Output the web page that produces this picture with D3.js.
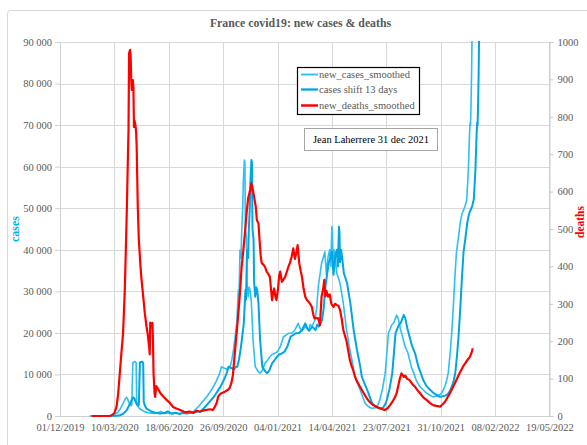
<!DOCTYPE html>
<html><head><meta charset="utf-8">
<script src="https://cdn.jsdelivr.net/npm/d3@7"></script>
<style>
html,body{margin:0;padding:0;background:#fff;}
svg{display:block;font-family:"Liberation Serif","Times New Roman",serif;}
</style></head>
<body><svg id="chart" width="587" height="445"></svg>
<script>
// ---------- DATA ----------
const titleText = "France covid19: new cases & deaths";
const seriesNames = ["new_cases_smoothed", "cases shift 13 days", "new_deaths_smoothed"];
const shiftDays = 13;
const xTickLabels = ["01/12/2019","10/03/2020","18/06/2020","26/09/2020","04/01/2021","14/04/2021","23/07/2021","31/10/2021","08/02/2022","19/05/2022"];
const leftTicks = [0,10000,20000,30000,40000,50000,60000,70000,80000,90000];
const rightTicks = [0,100,200,300,400,500,600,700,800,900,1000];
const annotation = "Jean Laherrere 31 dec 2021";

const newCases = [
["2020-01-24",0],["2020-03-01",50],["2020-03-08",200],["2020-03-14",650],["2020-03-17",1000],
["2020-03-20",1500],["2020-03-23",2240],["2020-03-26",3000],["2020-03-29",3850],["2020-04-01",4500],
["2020-04-03",4200],["2020-04-05",3440],["2020-04-08",2600],["2020-04-10",2500],["2020-04-11",2800],
["2020-04-12",8000],["2020-04-13",12900],["2020-04-15",13000],["2020-04-17",13100],["2020-04-19",12800],
["2020-04-20",3500],["2020-04-22",2500],["2020-04-25",1800],["2020-04-29",1500],["2020-05-05",1000],
["2020-05-12",800],["2020-05-20",600],["2020-05-28",700],["2020-06-03",1100],["2020-06-10",600],
["2020-06-17",800],["2020-06-24",500],["2020-07-01",700],["2020-07-09",600],["2020-07-16",800],
["2020-07-23",1000],["2020-08-02",1030],["2020-08-08",1800],["2020-08-14",2650],["2020-08-20",3600],
["2020-08-27",4640],["2020-09-02",5800],["2020-09-08",7050],["2020-09-13",8300],["2020-09-17",9460],
["2020-09-20",10500],["2020-09-23",11870],["2020-09-26",11600],["2020-09-29",11500],["2020-10-03",11200],
["2020-10-06",11800],["2020-10-09",11870],["2020-10-12",13500],["2020-10-15",15880],["2020-10-18",19000],
["2020-10-21",22300],["2020-10-24",30320],["2020-10-25",28000],["2020-10-27",39950],["2020-10-29",38000],
["2020-10-30",44000],["2020-11-01",50000],["2020-11-02",56000],["2020-11-04",61600],["2020-11-05",61000],
["2020-11-06",45000],["2020-11-08",42350],["2020-11-09",32000],["2020-11-11",28700],["2020-11-13",31000],
["2020-11-15",30000],["2020-11-17",27120],["2020-11-20",18290],["2020-11-24",11870],["2020-11-30",10660],
["2020-12-03",10300],["2020-12-07",11000],["2020-12-12",12680],["2020-12-17",13500],["2020-12-21",14270],
["2020-12-25",14800],["2020-12-30",15090],["2021-01-04",15500],["2021-01-09",16680],["2021-01-15",19080],
["2021-01-20",19500],["2021-01-24",19900],["2021-01-30",19900],["2021-02-05",20700],["2021-02-11",22300],
["2021-02-15",21000],["2021-02-18",20500],["2021-02-24",21490],["2021-03-02",20700],["2021-03-05",22000],
["2021-03-08",21500],["2021-03-14",23100],["2021-03-17",26000],["2021-03-20",31120],["2021-03-26",36740],
["2021-03-29",38000],["2021-04-01",39540],["2021-04-04",34000],["2021-04-07",38340],["2021-04-10",40000],
["2021-04-12",36000],["2021-04-14",45560],["2021-04-15",44000],["2021-04-16",37000],["2021-04-18",40000],
["2021-04-20",38000],["2021-04-23",34340],["2021-04-29",31930],["2021-05-05",27120],["2021-05-11",20700],
["2021-05-17",16000],["2021-05-23",12000],["2021-05-26",9460],["2021-06-01",7500],["2021-06-05",6260],
["2021-06-10",4500],["2021-06-14",3050],["2021-06-20",2300],["2021-06-26",1850],["2021-07-04",2000],
["2021-07-08",2800],["2021-07-11",3850],["2021-07-16",6500],["2021-07-21",10270],["2021-07-24",15000],
["2021-07-27",19900],["2021-08-02",21900],["2021-08-06",22500],["2021-08-11",24300],["2021-08-14",23500],
["2021-08-18",21000],["2021-08-22",19000],["2021-08-26",17000],["2021-09-01",15090],["2021-09-07",11870],
["2021-09-11",10500],["2021-09-16",8660],["2021-09-22",7200],["2021-09-29",6260],["2021-10-05",5500],
["2021-10-11",5050],["2021-10-17",4600],["2021-10-24",4800],["2021-10-31",5220],["2021-11-04",6000],
["2021-11-08",7220],["2021-11-11",8500],["2021-11-14",10420],["2021-11-17",14440],["2021-11-20",19250],
["2021-11-23",25670],["2021-11-26",32890],["2021-11-29",39300],["2021-12-03",43310],["2021-12-06",46510],
["2021-12-09",48530],["2021-12-15",50530],["2021-12-18",52140],["2021-12-21",59360],["2021-12-23",67380],
["2021-12-24",70580],["2021-12-25",70000],["2021-12-26",76000],["2021-12-27",83420],["2021-12-28",95000],
["2021-12-29",115000],["2021-12-30",135000],["2021-12-31",155000]
];

const newDeaths = [
["2020-01-28",0],["2020-03-01",0],["2020-03-05",2],["2020-03-10",8],["2020-03-14",25],["2020-03-17",60],
["2020-03-20",115],["2020-03-23",170],["2020-03-26",222],["2020-03-29",330],["2020-03-31",440],
["2020-04-02",560],["2020-04-04",700],["2020-04-05",765],["2020-04-06",970],["2020-04-07",975],
["2020-04-08",979],["2020-04-09",960],["2020-04-10",900],["2020-04-11",872],["2020-04-12",890],
["2020-04-13",898],["2020-04-14",880],["2020-04-15",773],["2020-04-16",790],["2020-04-17",783],
["2020-04-18",775],["2020-04-19",757],["2020-04-20",720],["2020-04-21",640],["2020-04-22",560],
["2020-04-24",471],["2020-04-27",400],["2020-04-29",364],["2020-05-02",320],["2020-05-05",275],
["2020-05-08",240],["2020-05-10",222],["2020-05-13",184],["2020-05-14",165],["2020-05-15",250],
["2020-05-17",240],["2020-05-19",249],["2020-05-20",200],["2020-05-21",115],["2020-05-23",60],
["2020-05-24",51],["2020-05-26",80],["2020-05-28",75],["2020-05-31",68],["2020-06-03",60],
["2020-06-08",52],["2020-06-14",43],["2020-06-20",35],["2020-06-26",24],["2020-07-02",20],
["2020-07-09",16],["2020-07-18",10],["2020-07-26",12],["2020-08-02",8],["2020-08-08",14],
["2020-08-14",12],["2020-08-22",15],["2020-09-02",18],["2020-09-07",16],["2020-09-11",25],
["2020-09-14",35],["2020-09-17",52],["2020-09-20",58],["2020-09-23",61],["2020-09-29",65],
["2020-10-05",70],["2020-10-08",75],["2020-10-11",87],["2020-10-14",110],["2020-10-18",176],
["2020-10-21",225],["2020-10-24",275],["2020-10-27",330],["2020-10-30",399],["2020-11-02",440],
["2020-11-05",488],["2020-11-08",540],["2020-11-11",582],["2020-11-14",600],["2020-11-17",622],
["2020-11-19",610],["2020-11-22",586],["2020-11-25",560],["2020-11-27",524],["2020-11-30",515],
["2020-12-02",470],["2020-12-04",430],["2020-12-06",408],["2020-12-09",405],["2020-12-12",399],
["2020-12-15",386],["2020-12-18",380],["2020-12-21",372],["2020-12-23",340],["2020-12-25",310],
["2020-12-27",330],["2020-12-29",341],["2020-12-31",320],["2021-01-02",310],["2021-01-05",340],
["2021-01-07",375],["2021-01-09",386],["2021-01-12",359],["2021-01-15",365],["2021-01-18",372],
["2021-01-21",385],["2021-01-24",399],["2021-01-27",410],["2021-01-30",426],["2021-02-02",448],
["2021-02-05",420],["2021-02-08",440],["2021-02-10",457],["2021-02-13",408],["2021-02-16",385],
["2021-02-18",372],["2021-02-21",340],["2021-02-24",319],["2021-02-27",310],["2021-03-02",306],
["2021-03-05",300],["2021-03-08",292],["2021-03-11",270],["2021-03-13",261],["2021-03-16",262],
["2021-03-20",261],["2021-03-23",243],["2021-03-26",319],["2021-03-29",340],["2021-03-31",364],
["2021-04-02",320],["2021-04-04",335],["2021-04-07",319],["2021-04-10",325],["2021-04-13",300],
["2021-04-17",292],["2021-04-20",300],["2021-04-23",297],["2021-04-26",295],["2021-04-29",283],
["2021-05-02",260],["2021-05-05",230],["2021-05-08",215],["2021-05-11",200],["2021-05-14",175],
["2021-05-17",150],["2021-05-20",135],["2021-05-23",123],["2021-05-26",108],["2021-05-29",96],
["2021-06-04",80],["2021-06-10",65],["2021-06-16",50],["2021-06-22",38],["2021-06-28",30],
["2021-07-05",25],["2021-07-12",20],["2021-07-20",16],["2021-07-25",20],["2021-07-30",29],
["2021-08-04",40],["2021-08-08",50],["2021-08-11",61],["2021-08-14",80],["2021-08-17",100],
["2021-08-20",114],["2021-08-22",110],["2021-08-24",105],["2021-08-27",108],["2021-08-30",100],
["2021-09-04",96],["2021-09-09",85],["2021-09-14",78],["2021-09-18",70],["2021-09-23",61],
["2021-09-29",50],["2021-10-05",43],["2021-10-11",35],["2021-10-17",29],["2021-10-23",27],
["2021-10-30",25],["2021-11-03",30],["2021-11-08",38],["2021-11-12",48],["2021-11-17",61],
["2021-11-23",78],["2021-11-29",96],["2021-12-05",115],["2021-12-11",132],["2021-12-17",145],
["2021-12-24",159],["2021-12-27",170],["2021-12-29",181]
];

// ---------- CHART ----------
const svg = d3.select("#chart");
const m = {left: 60, right: 549.4, top: 42, bottom: 416};
const parse = d3.utcParse("%Y-%m-%d");
const parseTick = d3.utcParse("%d/%m/%Y");
const fmtTick = d3.utcFormat("%d/%m/%Y");
const tickDates = xTickLabels.map(parseTick);
const serif = "'Liberation Serif','Times New Roman',serif";

const x = d3.scaleUtc().domain([tickDates[0], tickDates[tickDates.length-1]]).range([m.left, m.right]);
const yL = d3.scaleLinear().domain([0, 90000]).range([m.bottom, m.top]);
const yR = d3.scaleLinear().domain([0, 1000]).range([m.bottom, m.top]);
const grey = "#595959";
const gridCol = "#D9D9D9";

const fr = d3.formatLocale({decimal: ",", thousands: " ", grouping: [3], currency: ["", ""]});
const fmtL = fr.format(",");

// outer chart border
svg.append("rect").attr("x", 7.5).attr("y", 10.5).attr("width", 620).attr("height", 460)
  .attr("rx", 3).attr("fill", "#fff").attr("stroke", "#D9D9D9").attr("stroke-width", 1);

// title
svg.append("text").attr("x", 300.5).attr("y", 27).attr("text-anchor", "middle")
  .attr("font-family", serif).attr("font-size", 11.8).attr("font-weight", "bold").attr("fill", grey).text(titleText);

// grid
const g = svg.append("g");
g.selectAll("line.hg").data(leftTicks).join("line")
  .attr("x1", m.left).attr("x2", m.right)
  .attr("y1", d => Math.round(yL(d)) + 0.5).attr("y2", d => Math.round(yL(d)) + 0.5)
  .attr("stroke", gridCol).attr("stroke-width", 1);
g.selectAll("line.vg").data(tickDates).join("line")
  .attr("x1", d => Math.round(x(d)) + 0.5).attr("x2", d => Math.round(x(d)) + 0.5)
  .attr("y1", m.top).attr("y2", m.bottom)
  .attr("stroke", gridCol).attr("stroke-width", 1);

// axes
function styleAxis(sel, lineCol) {
  sel.attr("font-family", serif);
  sel.select(".domain").attr("stroke", lineCol);
  sel.selectAll(".tick line").attr("stroke", lineCol);
  sel.selectAll(".tick text").attr("fill", grey).attr("font-size", 10.5).attr("font-family", serif);
}
const axL = svg.append("g").attr("transform", `translate(${m.left},0)`)
  .call(d3.axisLeft(yL).tickValues(leftTicks).tickFormat(fmtL).tickSizeInner(5).tickSizeOuter(0).tickPadding(3));
styleAxis(axL, "#D0D0D0");
const axR = svg.append("g").attr("transform", `translate(${m.right},0)`)
  .call(d3.axisRight(yR).tickValues(rightTicks).tickFormat(d3.format("d")).tickSizeInner(4).tickSizeOuter(0).tickPadding(4));
styleAxis(axR, "#C8C8C8");
const axB = svg.append("g").attr("transform", `translate(0,${m.bottom})`)
  .call(d3.axisBottom(x).tickValues(tickDates).tickFormat(fmtTick).tickSizeInner(0).tickSizeOuter(0).tickPadding(8));
styleAxis(axB, "#D0D0D0");

// axis titles
svg.append("text").attr("transform", "translate(19,229) rotate(-90)").attr("text-anchor", "middle")
  .attr("font-family", serif).attr("font-size", 12).attr("font-weight", "bold").attr("fill", "#00B0F0").text("cases");
svg.append("text").attr("transform", "translate(583.5,222) rotate(-90)").attr("text-anchor", "middle")
  .attr("font-family", serif).attr("font-size", 11.5).attr("font-weight", "bold").attr("fill", "#FF0000").text("deaths");

// clip
svg.append("clipPath").attr("id", "plotclip").append("rect")
  .attr("x", m.left).attr("y", m.top - 1).attr("width", m.right - m.left).attr("height", m.bottom - m.top + 3);

const casesData = newCases.map(([d, v]) => ({date: parse(d), v}));
const shiftData = newCases.map(([d, v]) => ({date: d3.utcDay.offset(parse(d), shiftDays), v}));
const deathsData = newDeaths.map(([d, v]) => ({date: parse(d), v}));

const lineL = d3.line().x(d => x(d.date)).y(d => yL(d.v));
const lineR = d3.line().x(d => x(d.date)).y(d => yR(d.v));

const colors = ["#2CC0F4", "#00A6E2", "#FF0000"];
const widths = [1.6, 2, 2.2];
const plot = svg.append("g").attr("clip-path", "url(#plotclip)");
plot.append("path").datum(casesData).attr("d", lineL).attr("fill", "none")
  .attr("stroke", colors[0]).attr("stroke-width", widths[0]).attr("stroke-linejoin", "round");
plot.append("path").datum(shiftData).attr("d", lineL).attr("fill", "none")
  .attr("stroke", colors[1]).attr("stroke-width", widths[1]).attr("stroke-linejoin", "round");
plot.append("path").datum(deathsData).attr("d", lineR).attr("fill", "none")
  .attr("stroke", colors[2]).attr("stroke-width", widths[2]).attr("stroke-linejoin", "round");

// legend
const lg = svg.append("g").attr("font-family", serif);
lg.append("rect").attr("x", 297.5).attr("y", 67.5).attr("width", 122).attr("height", 47)
  .attr("fill", "#fff").attr("stroke", "#000").attr("stroke-width", 1.2);
const ly = [74.5, 89.5, 105.5];
seriesNames.forEach((name, i) => {
  lg.append("line").attr("x1", 301).attr("x2", 318).attr("y1", ly[i]).attr("y2", ly[i])
    .attr("stroke", colors[i]).attr("stroke-width", widths[i] + 0.3);
  lg.append("text").attr("x", 319).attr("y", ly[i] + 3.6).attr("font-size", 10.5)
    .attr("fill", grey).text(name);
});

// annotation
svg.append("rect").attr("x", 304.5).attr("y", 128.5).attr("width", 133).attr("height", 22)
  .attr("fill", "#fff").attr("stroke", "#A6A6A6").attr("stroke-width", 1);
svg.append("text").attr("x", 371).attr("y", 143).attr("text-anchor", "middle")
  .attr("font-family", serif).attr("font-size", 10.5).attr("fill", "#000").text(annotation);
</script></body></html>
